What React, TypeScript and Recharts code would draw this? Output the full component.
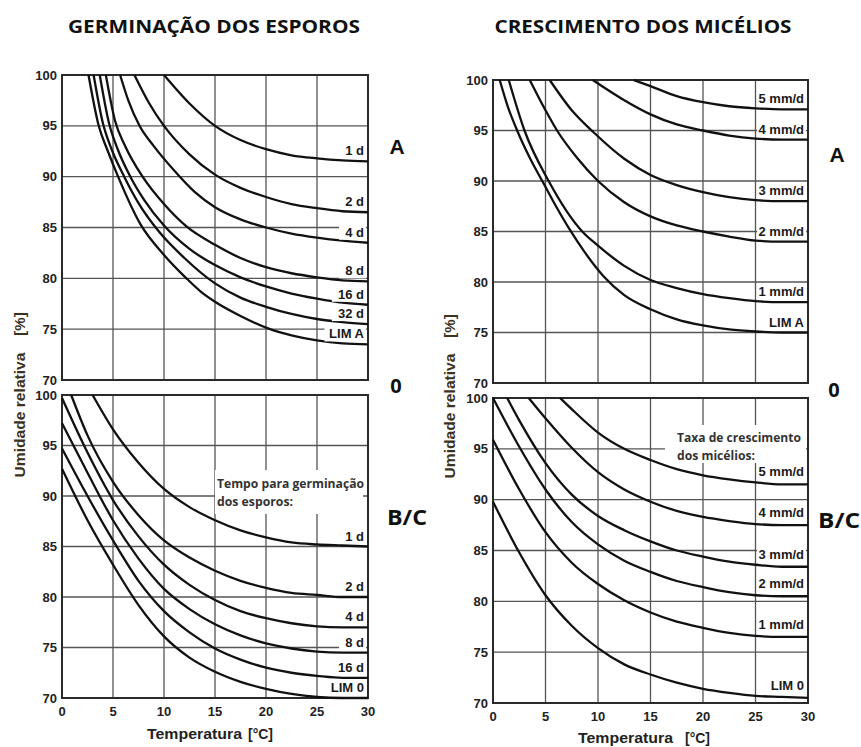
import React from "react";
import { LineChart, Line, XAxis, YAxis, CartesianGrid, ReferenceArea } from "recharts";

const tempTicks = [0, 5, 10, 15, 20, 25, 30];
const rhTicks = [70, 75, 80, 85, 90, 95, 100];

// [temperatura °C, umidade relativa %]
// germinação dos esporos - classe A
const germA1d = [[10, 100], [12.5, 97.2], [15, 95.0], [17.5, 93.6], [20, 92.7], [22.5, 92.1], [25, 91.8], [27.5, 91.6], [30, 91.5]];
const germA2d = [[7.1, 100], [8.5, 97.3], [10, 95.0], [12.5, 92.2], [15, 90.2], [17.5, 88.9], [20, 88.0], [22.5, 87.3], [25, 86.9], [27.5, 86.6], [30, 86.5]];
const germA4d = [[5.7, 100], [6.5, 97.5], [7.6, 95.0], [9, 93.0], [11, 90.6], [13, 88.5], [15, 87.0], [17.5, 85.8], [20, 85.0], [22.5, 84.4], [25, 84.0], [27.5, 83.7], [30, 83.5]];
const germA8d = [[4.3, 100], [5.2, 95.5], [6.2, 93.0], [7.9, 90.0], [10, 87.3], [12.2, 85.1], [15, 83.3], [17.5, 82.0], [20, 81.1], [22.5, 80.5], [25, 80.1], [27.5, 79.8], [30, 79.7]];
const germA16d = [[3.7, 100], [4.6, 95.3], [5.5, 92.6], [6.7, 90.0], [8, 87.8], [10, 85.2], [12.5, 82.9], [15, 81.3], [17.5, 80.1], [20, 79.2], [22.5, 78.5], [25, 78.0], [27.5, 77.6], [30, 77.4]];
const germA32d = [[3.1, 100], [4.0, 95.3], [4.9, 92.6], [6.1, 90.0], [7.5, 87.4], [9.5, 84.6], [12, 82.0], [15, 79.5], [17.5, 78.1], [20, 77.2], [22.5, 76.5], [25, 76.0], [27.5, 75.7], [30, 75.5]];
const germALim = [[2.6, 100], [3.6, 95.0], [4.5, 92.5], [5.5, 90.0], [7.7, 85.3], [10, 82.3], [12.2, 80.0], [13.6, 78.7], [15, 77.7], [17.5, 76.3], [20.4, 75.0], [22.5, 74.4], [25, 73.9], [27.5, 73.6], [30, 73.5]];

// germinação dos esporos - classes B/C
const germB1d = [[3.0, 100], [5, 96.6], [7.5, 93.3], [10, 90.7], [12.5, 88.9], [15, 87.6], [17.5, 86.6], [20, 85.9], [22.5, 85.4], [25, 85.2], [27.5, 85.1], [30, 85.0]];
const germB2d = [[0.9, 100], [2.5, 96.0], [5, 91.4], [7.5, 88.1], [10, 85.6], [12.5, 83.9], [15, 82.6], [17.5, 81.6], [20, 80.9], [22.5, 80.4], [25, 80.2], [27.5, 80.0], [30, 80.0]];
const germB4d = [[0, 99.7], [2.5, 94.3], [5, 89.6], [7.5, 86.0], [10, 83.2], [12.5, 81.2], [15, 79.7], [17.5, 78.6], [20, 77.9], [22.5, 77.4], [25, 77.1], [27.5, 77.0], [30, 77.0]];
const germB8d = [[0, 97.2], [2.5, 92.3], [5, 87.6], [7.5, 83.8], [10, 80.8], [12.5, 78.8], [15, 77.3], [17.5, 76.2], [20, 75.4], [22.5, 74.9], [25, 74.6], [27.5, 74.5], [30, 74.5]];
const germB16d = [[0, 94.7], [2.5, 90.0], [5, 85.6], [7.5, 81.6], [10, 78.6], [12.5, 76.5], [15, 74.9], [17.5, 73.8], [20, 73.0], [22.5, 72.5], [25, 72.2], [27.5, 72.0], [30, 72.0]];
const germBLim = [[0, 92.7], [2.5, 87.6], [5, 83.2], [7.5, 79.2], [10, 76.1], [12.5, 74.0], [15, 72.6], [17.5, 71.6], [20, 70.9], [22.5, 70.4], [25, 70.1], [27.5, 70.0], [30, 70.0]];

// crescimento dos micélios - classe A
const micA5 = [[13.4, 100], [15, 99.4], [17.5, 98.4], [20, 97.8], [22.5, 97.4], [25, 97.2], [27.5, 97.1], [30, 97.1]];
const micA4 = [[9.5, 100], [12.5, 98.0], [15, 96.6], [17.5, 95.6], [20, 95.0], [22.5, 94.5], [25, 94.2], [27.5, 94.1], [30, 94.1]];
const micA3 = [[5.4, 100], [7.5, 97.0], [9.6, 94.8], [12.5, 92.2], [15, 90.6], [17.5, 89.6], [20, 88.9], [22.5, 88.4], [25, 88.1], [27.5, 88.0], [30, 88.0]];
const micA2 = [[3.5, 100], [5, 97.0], [6.1, 95.0], [8, 92.3], [10, 90.0], [12.5, 87.9], [15, 86.5], [17.5, 85.6], [20, 85.0], [22.5, 84.5], [25, 84.1], [27.5, 84.0], [30, 84.0]];
const micA1 = [[1.5, 100], [3.0, 95.0], [5.3, 90.0], [8.5, 85.0], [10, 83.6], [12.5, 81.6], [15, 80.2], [17.5, 79.4], [20, 78.8], [22.5, 78.4], [25, 78.1], [27.5, 78.0], [30, 78.0]];
const micALim = [[0.64, 100], [1.4, 97.4], [2.3, 95.0], [3.5, 92.3], [4.8, 89.8], [6, 87.5], [7.3, 85.2], [8.7, 83.0], [10.5, 80.6], [12.5, 78.7], [15, 77.3], [17.5, 76.3], [20, 75.7], [22.5, 75.3], [25, 75.1], [27.5, 75.0], [30, 75.0]];

// crescimento dos micélios - classes B/C
const micB5 = [[6.4, 100], [7.5, 98.9], [10, 96.6], [12.5, 95.0], [15, 93.9], [17.5, 93.0], [20, 92.4], [22.5, 92.0], [25, 91.7], [27.5, 91.5], [30, 91.5]];
const micB4 = [[3.4, 100], [5, 98.0], [7.5, 95.1], [10, 92.7], [12.5, 91.0], [15, 89.8], [17.5, 88.9], [20, 88.3], [22.5, 87.9], [25, 87.6], [27.5, 87.5], [30, 87.5]];
const micB3 = [[1.35, 100], [2.5, 97.8], [5, 93.6], [7.5, 90.5], [10, 88.4], [12.5, 87.0], [15, 85.9], [17.5, 85.0], [20, 84.4], [22.5, 83.9], [25, 83.6], [27.5, 83.4], [30, 83.4]];
const micB2 = [[0, 100], [2.5, 95.2], [5, 91.0], [7.5, 87.8], [10, 85.6], [12.5, 84.0], [15, 82.9], [17.5, 82.0], [20, 81.4], [22.5, 80.9], [25, 80.6], [27.5, 80.5], [30, 80.5]];
const micB1 = [[0, 95.9], [2.5, 91.0], [5, 86.8], [7.5, 83.8], [10, 81.7], [12.5, 80.1], [15, 78.9], [17.5, 78.0], [20, 77.4], [22.5, 76.9], [25, 76.6], [27.5, 76.5], [30, 76.5]];
const micBLim = [[0, 89.8], [2.5, 84.8], [5, 80.6], [7.5, 77.6], [10, 75.4], [12.5, 73.8], [15, 72.8], [17.5, 72.0], [20, 71.4], [22.5, 71.0], [25, 70.7], [27.5, 70.6], [30, 70.5]];

type Series = { name: string; points: number[][] };

const germA: Series[] = [
  { name: "1 d", points: germA1d },
  { name: "2 d", points: germA2d },
  { name: "4 d", points: germA4d },
  { name: "8 d", points: germA8d },
  { name: "16 d", points: germA16d },
  { name: "32 d", points: germA32d },
  { name: "LIM A", points: germALim },
];
const germB: Series[] = [
  { name: "1 d", points: germB1d },
  { name: "2 d", points: germB2d },
  { name: "4 d", points: germB4d },
  { name: "8 d", points: germB8d },
  { name: "16 d", points: germB16d },
  { name: "LIM 0", points: germBLim },
];
const micA: Series[] = [
  { name: "5 mm/d", points: micA5 },
  { name: "4 mm/d", points: micA4 },
  { name: "3 mm/d", points: micA3 },
  { name: "2 mm/d", points: micA2 },
  { name: "1 mm/d", points: micA1 },
  { name: "LIM A", points: micALim },
];
const micB: Series[] = [
  { name: "5 mm/d", points: micB5 },
  { name: "4 mm/d", points: micB4 },
  { name: "3 mm/d", points: micB3 },
  { name: "2 mm/d", points: micB2 },
  { name: "1 mm/d", points: micB1 },
  { name: "LIM 0", points: micBLim },
];

const ARIAL = "'Liberation Sans', Arial, sans-serif";
const CALIBRI = "'Open Sans', 'Noto Sans', sans-serif";
const tickStyle = { fontSize: 13, fontWeight: 700, fill: "#222", fontFamily: ARIAL };

// label drawn at the last point of each curve, with a white patch behind it
const endLabel = (text: string, last: number, dy: number) => (p: any) => {
  if (p.index !== last) return <g key={`d${p.index}`} />;
  const x = p.cx - 4;
  const y = p.cy + dy;
  const w = text.length * 7.3;
  return (
    <g key="end">
      <rect x={x - w - 3} y={y - 11} width={w + 5} height={14} fill="#fff" />
      <text x={x} y={y} textAnchor="end" fontSize={13} fontWeight={700} fill="#1a1a1a" fontFamily={ARIAL}>
        {text}
      </text>
    </g>
  );
};

type PanelProps = {
  series: Series[];
  left: number;
  top: number;
  width: number;
  height: number;
  margin: { top: number; right: number; bottom: number; left: number };
  axisW: number;
  showX: boolean;
  labelDy: number;
};

function Panel({ series, left, top, width, height, margin, axisW, showX, labelDy }: PanelProps) {
  return (
    <div style={{ position: "absolute", left, top }}>
      <LineChart width={width} height={height} margin={margin}>
        <CartesianGrid stroke="#555" strokeWidth={1.3} verticalValues={tempTicks} horizontalValues={rhTicks} />
        <XAxis
          type="number"
          dataKey="t"
          domain={[0, 30]}
          ticks={tempTicks}
          interval={0}
          hide={!showX}
          height={30}
          tickLine={false}
          axisLine={false}
          tickSize={0}
          tickMargin={9}
          tick={tickStyle}
        />
        <YAxis
          type="number"
          domain={[70, 100]}
          ticks={rhTicks}
          interval={0}
          width={axisW}
          tickLine={false}
          axisLine={false}
          tickSize={0}
          tickMargin={5}
          tick={tickStyle}
        />
        <ReferenceArea x1={0} x2={30} y1={70} y2={100} fill="none" fillOpacity={0} stroke="#2a2a2a" strokeWidth={2} />
        {series.map((s) => {
          const data = s.points.map(([t, rh]) => ({ t, rh }));
          return (
            <Line
              key={s.name}
              data={data}
              dataKey="rh"
              type="monotone"
              stroke="#111"
              strokeWidth={2.3}
              dot={endLabel(s.name, data.length - 1, labelDy)}
              activeDot={false}
              isAnimationActive={false}
            />
          );
        })}
      </LineChart>
    </div>
  );
}

export default function App() {
  return (
    <div style={{ position: "absolute", left: 0, top: 0, width: 861, height: 747, background: "#fff" }}>
      <Panel series={germA} left={0} top={0} width={380} height={390} margin={{ top: 75, right: 12, bottom: 10, left: 0 }} axisW={62} showX={false} labelDy={-6} />
      <Panel series={germB} left={0} top={380} width={380} height={367} margin={{ top: 15, right: 12, bottom: 19, left: 0 }} axisW={62} showX={true} labelDy={-6} />
      <Panel series={micA} left={430} top={0} width={390} height={393} margin={{ top: 80, right: 12, bottom: 10, left: 0 }} axisW={63} showX={false} labelDy={-6} />
      <Panel series={micB} left={430} top={380} width={390} height={367} margin={{ top: 18, right: 12, bottom: 14, left: 0 }} axisW={63} showX={true} labelDy={-8} />

      <svg width={861} height={747} style={{ position: "absolute", left: 0, top: 0, pointerEvents: "none" }}>
        {/* titles */}
        <text x={214} y={33} textAnchor="middle" fontSize={18} fontWeight={700} fontFamily={CALIBRI} fill="#111" textLength={292} lengthAdjust="spacingAndGlyphs">
          GERMINAÇÃO DOS ESPOROS
        </text>
        <text x={643} y={33} textAnchor="middle" fontSize={18} fontWeight={700} fontFamily={CALIBRI} fill="#111" textLength={297} lengthAdjust="spacingAndGlyphs">
          CRESCIMENTO DOS MICÉLIOS
        </text>

        {/* y axis titles */}
        <g fontFamily={ARIAL} fontWeight={700} fontSize={15} fill="#3b3222">
          <text transform="translate(19,415) rotate(-90)" textAnchor="middle" dominantBaseline="central" textLength={125} lengthAdjust="spacingAndGlyphs">Umidade relativa</text>
          <text transform="translate(19,324) rotate(-90)" textAnchor="middle" dominantBaseline="central">[%]</text>
          <text transform="translate(449,416) rotate(-90)" textAnchor="middle" dominantBaseline="central" textLength={125} lengthAdjust="spacingAndGlyphs">Umidade relativa</text>
          <text transform="translate(449,326) rotate(-90)" textAnchor="middle" dominantBaseline="central">[%]</text>
        </g>

        {/* x axis titles */}
        <g fontFamily={ARIAL} fontWeight={700} fontSize={14} fill="#222">
          <text x={147} y={739} textLength={95} lengthAdjust="spacingAndGlyphs">Temperatura</text>
          <text x={248} y={739} textLength={25} lengthAdjust="spacingAndGlyphs">[°C]</text>
          <text x={578} y={743} textLength={95} lengthAdjust="spacingAndGlyphs">Temperatura</text>
          <text x={685} y={743} textLength={25} lengthAdjust="spacingAndGlyphs">[°C]</text>
        </g>

        {/* class letters */}
        <text x={397} y={154} textAnchor="middle" fontSize={21} fontWeight={700} fontFamily={ARIAL} fill="#111">A</text>
        <text x={837} y={162} textAnchor="middle" fontSize={21} fontWeight={700} fontFamily={ARIAL} fill="#111">A</text>
        <g fontFamily={CALIBRI} fontWeight={700} fill="#111">
          <text x={396} y={393} textAnchor="middle" fontSize={20}>0</text>
          <text x={834} y={397} textAnchor="middle" fontSize={20}>0</text>
          <text x={407} y={525} textAnchor="middle" fontSize={22} textLength={40} lengthAdjust="spacingAndGlyphs">B/C</text>
          <text x={839} y={528} textAnchor="middle" fontSize={22} textLength={42} lengthAdjust="spacingAndGlyphs">B/C</text>
        </g>

        {/* notes inside the B/C plots */}
        <rect x={215} y={470} width={148} height={44} fill="#fff" />
        <rect x={665} y={425} width={141} height={38} fill="#fff" />
        <g fontFamily={CALIBRI} fontWeight={700} fontSize={11.5} fill="#333">
          <text x={217} y={488} textLength={147} lengthAdjust="spacingAndGlyphs">Tempo para germinação</text>
          <text x={217} y={506} textLength={76} lengthAdjust="spacingAndGlyphs">dos esporos:</text>
          <text x={677} y={442} textLength={124} lengthAdjust="spacingAndGlyphs">Taxa de crescimento</text>
          <text x={677} y={460} textLength={78} lengthAdjust="spacingAndGlyphs">dos micélios:</text>
        </g>
      </svg>
    </div>
  );
}
